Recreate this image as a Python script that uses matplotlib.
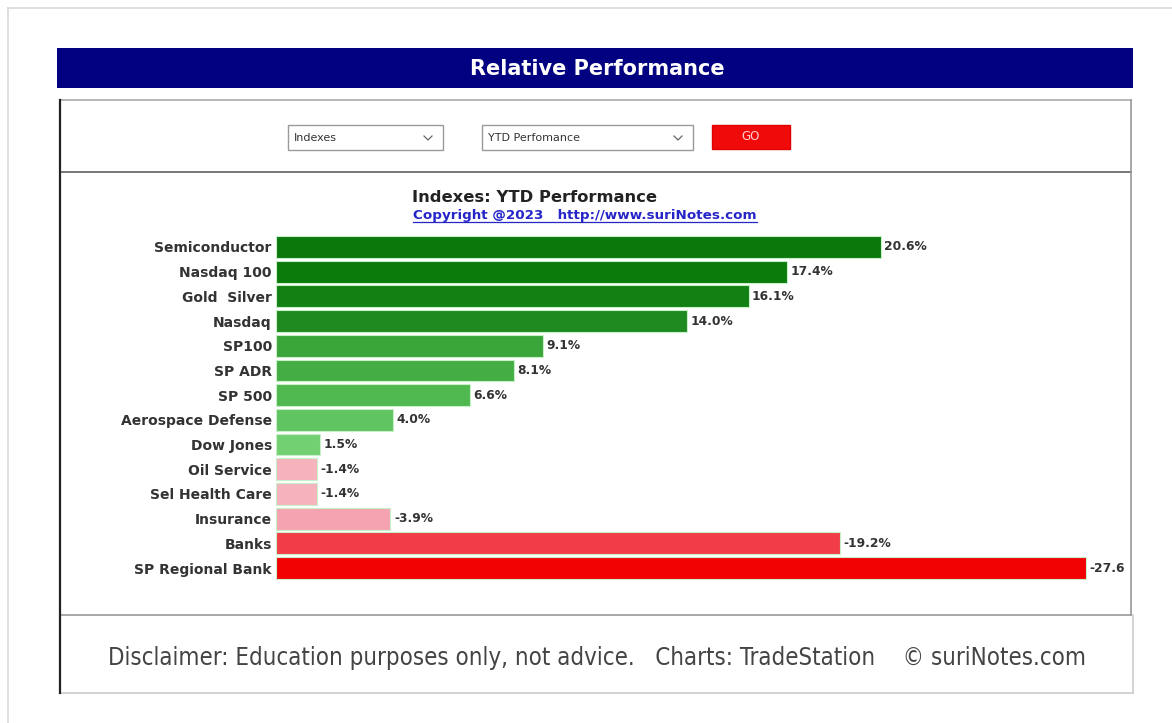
import matplotlib
matplotlib.use("Agg")
import matplotlib.pyplot as plt
from matplotlib.patches import Rectangle

# === data ===
categories = ["Semiconductor", "Nasdaq 100", "Gold  Silver", "Nasdaq", "SP100", "SP ADR",
              "SP 500", "Aerospace Defense", "Dow Jones", "Oil Service", "Sel Health Care",
              "Insurance", "Banks", "SP Regional Bank"]
values = [20.6, 17.4, 16.1, 14.0, 9.1, 8.1, 6.6, 4.0, 1.5, -1.4, -1.4, -3.9, -19.2, -27.6]
value_labels = ["20.6%", "17.4%", "16.1%", "14.0%", "9.1%", "8.1%", "6.6%", "4.0%", "1.5%",
                "-1.4%", "-1.4%", "-3.9%", "-19.2%", "-27.6"]
bar_colors = ["#0a780a", "#0b7b0b", "#128012", "#1f8a1f", "#3aa63a", "#44ae44", "#4fb84f",
              "#60c460", "#72d072", "#f7b3bd", "#f7b3bd", "#f5a3b0", "#f23c48", "#f20202"]

W, H = 1172, 723
fig = plt.figure(figsize=(W / 100, H / 100), dpi=100)
fig.patch.set_facecolor("white")

# background axes in pixel coords
bg = fig.add_axes([0, 0, 1, 1])
bg.set_xlim(0, W)
bg.set_ylim(H, 0)
bg.axis("off")

# outer light frame
bg.plot([8, W], [8, 8], color="#d9d9d9", lw=1.2)
bg.plot([8, 8], [8, H], color="#d9d9d9", lw=1.2)

# navy header
bg.add_patch(Rectangle((57, 48), 1076, 40, facecolor="#000080", edgecolor="none"))
bg.text(597, 69, "Relative Performance", color="white", fontsize=15, fontweight="bold",
        ha="center", va="center")

# panel lines
bg.plot([60, 1131], [100, 100], color="#aaaaaa", lw=1.2)
bg.plot([60, 1131], [172, 172], color="#777777", lw=1.4)
bg.plot([60, 1131], [615, 615], color="#999999", lw=1.2)
bg.plot([60, 1133], [693, 693], color="#cccccc", lw=1.2)
bg.plot([60, 60], [100, 693], color="#222222", lw=1.6)
bg.plot([1131, 1131], [100, 615], color="#999999", lw=1.2)
bg.plot([1133, 1133], [615, 693], color="#cccccc", lw=1.2)

# controls
bg.add_patch(Rectangle((288, 125), 155, 25, facecolor="white", edgecolor="#9a9a9a", lw=1))
bg.text(294, 138, "Indexes", fontsize=8, color="#333333", va="center")
bg.plot([424, 428, 432], [136, 140, 136], color="#666666", lw=0.9)
bg.add_patch(Rectangle((482, 125), 211, 25, facecolor="white", edgecolor="#9a9a9a", lw=1))
bg.text(488, 138, "YTD Perfomance", fontsize=8, color="#333333", va="center")
bg.plot([674, 678, 682], [136, 140, 136], color="#666666", lw=0.9)
bg.add_patch(Rectangle((712, 125), 78, 24, facecolor="#f00a0a", edgecolor="#e00000", lw=1))
bg.text(751, 137, "GO", fontsize=8.5, color="#ffd0d0", va="center", ha="center")

# chart titles
bg.text(535, 198, "Indexes: YTD Performance", fontsize=11.8, fontweight="bold", color="#222222",
        ha="center", va="center")
link = bg.text(585, 216, "Copyright @2023   http://www.suriNotes.com", fontsize=9.7,
               fontweight="bold", color="#2525c8", ha="center", va="center")

# footer text (fitted to the reference width)
footer = bg.text(108, 658, "Disclaimer: Education purposes only, not advice.   Charts: TradeStation    \u00a9 suriNotes.com",
                 fontsize=20, color="#444444", ha="left", va="center",
                 family="DejaVu Sans", fontstretch="condensed")

# bar axes: rows centered 247..568 px, x origin at 276 px
px_per_unit = 29.35
x0, x1 = 276, 1130
y_top, y_bot = 234.6, 580.4
ax = fig.add_axes([x0 / W, 1 - y_bot / H, (x1 - x0) / W, (y_bot - y_top) / H])
ax.set_xlim(0, (x1 - x0) / px_per_unit)
ax.set_ylim(len(categories) - 0.5, -0.5)
ax.patch.set_alpha(0)

pos = list(range(len(categories)))
widths = [abs(v) for v in values]
ax.barh(pos, widths, height=0.88, color=bar_colors, edgecolor="#c8f0c8", linewidth=0.8)
for p, w, lab in zip(pos, widths, value_labels):
    ax.text(w + 0.12, p, lab, fontsize=8.8, fontweight="bold", color="#333333",
            va="center", ha="left", clip_on=False)

ax.set_yticks(pos)
ax.set_yticklabels(categories, fontsize=10, fontweight="bold", color="#333333")
ax.tick_params(axis="y", length=0, pad=3)
ax.set_xticks([])
for s in ax.spines.values():
    s.set_visible(False)

# fit footer width and underline the copyright link
fig.canvas.draw()
r = fig.canvas.get_renderer()
fw = footer.get_window_extent(r).width
footer.set_fontsize(20 * 975 / fw)

bb = link.get_window_extent(r)
inv = bg.transData.inverted()
(lx0, ly0), (lx1, ly1) = inv.transform([[bb.x0, bb.y0], [bb.x1, bb.y1]])
bg.plot([lx0, lx1], [ly0 - 0.5, ly0 - 0.5], color="#2525c8", lw=0.9)

fig.savefig("out.png", dpi=100)
